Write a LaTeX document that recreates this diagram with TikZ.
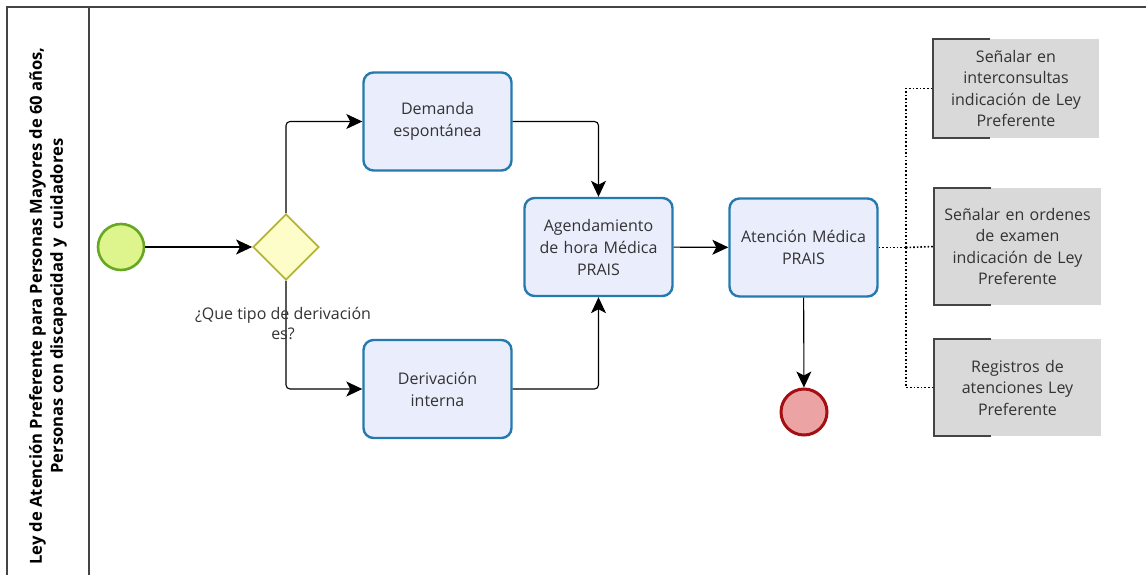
\documentclass[tikz,border=0pt]{standalone}
\usepackage{fontspec}
\setmainfont{Open Sans}
\usetikzlibrary{arrows.meta,calc,shapes.geometric}
\definecolor{taskfill}{HTML}{E9EDFC}
\definecolor{taskdraw}{HTML}{2479AE}
\definecolor{startfill}{HTML}{DDF58C}
\definecolor{startdraw}{HTML}{67A822}
\definecolor{gwfill}{HTML}{FDFDC9}
\definecolor{gwdraw}{HTML}{B4B437}
\definecolor{endfill}{HTML}{ECA3A3}
\definecolor{enddraw}{HTML}{A30F12}
\definecolor{annfill}{HTML}{D9D9D9}
\definecolor{txt}{HTML}{333333}
\definecolor{frame}{HTML}{444444}
\tikzset{
  task/.style={draw=taskdraw, line width=2.4pt, fill=taskfill, rounded corners=10pt,
    minimum width=148pt, minimum height=98pt, inner sep=0pt, align=center,
    text width=144pt, font=\fontsize{16}{22}\selectfont, text=txt},
  ann/.style={fill=annfill, minimum width=166pt, inner sep=0pt, align=center,
    text width=160pt, font=\fontsize{16}{21.5}\selectfont, text=txt},
  flow/.style={draw=black, line width=1.1pt, rounded corners=4pt,
    -{Stealth[length=16pt,width=15pt,inset=4pt]}},
  assoc/.style={draw=black, line width=1.6pt, dotted},
  bracket/.style={draw=frame, line width=1.8pt},
}
\begin{document}
\begin{tikzpicture}[x=1pt,y=-1pt]
\useasboundingbox (0,0) rectangle (1146,575);
% pool frame
\draw[frame, line width=1.6pt] (1146,7) -- (7,7) -- (7,575);
\draw[frame, line width=1.6pt] (89,7) -- (89,575);
\node[rotate=90, align=center, font=\bfseries\fontsize{16.6}{21}\selectfont, text=black] (lane) at (48,306)
  {Ley de Atención Preferente para Personas Mayores de 60 años,\\Personas con discapacidad y\ \ cuidadores};
% events and gateway
\node[circle, draw=startdraw, fill=startfill, line width=2.6pt, minimum size=46pt, inner sep=0pt] (start) at (121,247) {};
\node[diamond, draw=gwdraw, fill=gwfill, line width=1.8pt, minimum width=66pt, minimum height=66pt, inner sep=0pt] (gw) at (286,247) {};
\node[circle, draw=enddraw, fill=endfill, line width=3pt, minimum size=46pt, inner sep=0pt] (end) at (804,412) {};
% tasks
\node[task] (dem) at (437.5,121.5) {Demanda\\espontánea};
\node[task] (der) at (437.5,389) {Derivación\\interna};
\node[task] (agd) at (598.5,247) {Agendamiento\\de hora Médica\\PRAIS};
\node[task] (atn) at (803.5,247.5) {Atención Médica\\PRAIS};
% flows
\draw[flow] (start) -- (gw);
\draw[flow] (gw.north) |- (dem.west);
\draw[flow] (gw.south) |- (der.west);
\draw[flow] (dem.east) -| (agd.north);
\draw[flow] (der.east) -| (agd.south);
\draw[flow] (agd) -- (atn);
\draw[flow, rounded corners=0pt] (atn) -- (end);
% gateway label
\node[align=center, font=\fontsize{16}{20}\selectfont, text=txt, inner sep=0pt] (gwlbl) at (283,323) {¿Que tipo de derivación\\es?};
% annotations
\node[ann, minimum height=99pt] (a1) at (1016,88.5) {Señalar en\\interconsultas\\indicación de Ley\\Preferente};
\node[ann, minimum height=117pt] (a2) at (1017.5,246.5) {Señalar en ordenes\\de examen\\indicación de Ley\\Preferente};
\node[ann, minimum height=97pt] (a3) at (1017.5,387.5) {Registros de\\atenciones Ley\\Preferente};
\foreach \a in {a1,a2,a3}{
  \draw[bracket] ($(\a.north west)+(57,0)$) -- (\a.north west) -- (\a.south west) -- ($(\a.south west)+(57,0)$);
}
\coordinate (j) at (906,247.5);
\draw[assoc] (atn.east) -- (j);
\draw[assoc] (j) |- (a1.west);
\draw[assoc] (j) -- (a2.west);
\draw[assoc] (j) |- (a3.west);
\end{tikzpicture}
\end{document}
